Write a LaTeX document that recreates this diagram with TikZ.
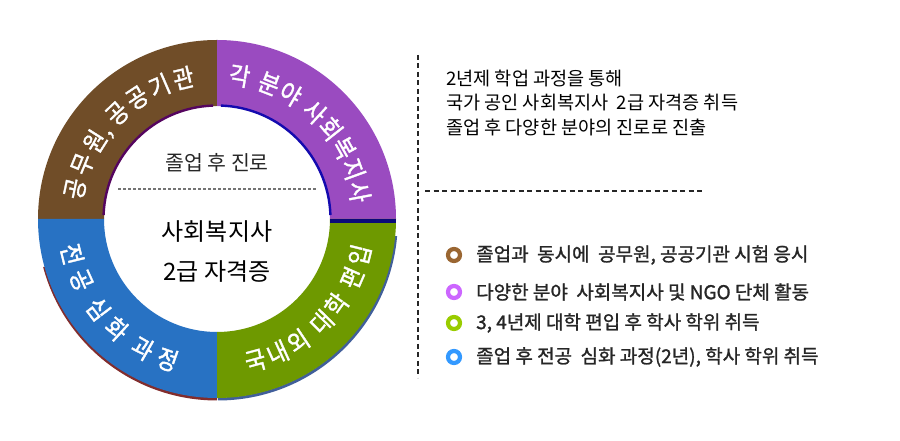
\documentclass[tikz,border=0pt]{standalone}
\usepackage{fontspec}
\setmainfont{Noto Sans CJK KR}
\newfontfamily\kr{Noto Sans CJK KR}
\newfontfamily\krmed[FakeBold=1.2]{Noto Sans CJK KR}
\newfontfamily\krring[FakeBold=1.5,FakeStretch=0.9]{Noto Sans CJK KR}
\usetikzlibrary{calc}
\definecolor{cBrown}{RGB}{112,77,40}
\definecolor{cPurple}{RGB}{154,75,192}
\definecolor{cGreen}{RGB}{110,153,0}
\definecolor{cBlue}{RGB}{40,114,195}
\definecolor{lBrown}{RGB}{154,102,50}
\definecolor{lPurple}{RGB}{204,102,255}
\definecolor{lGreen}{RGB}{153,204,0}
\definecolor{lBlue}{RGB}{51,153,255}
\tikzset{
  legdot/.style={draw=#1, line width=4.2pt, circle, minimum size=12pt, inner sep=0pt},
  legtext/.style={anchor=west, font=\krmed\fontsize{19pt}{21pt}\selectfont, text=black!85, inner sep=0pt},
  infotext/.style={anchor=base west, font=\kr\fontsize{18.6pt}{20pt}\selectfont, inner sep=0pt},
  sep/.style={line width=1.2pt, dash pattern=on 5pt off 3.5pt, black!85},
  ringchar/.style={text=white, inner sep=0pt, font=\krring\fontsize{25pt}{25pt}\selectfont}
}
\begin{document}
\begin{tikzpicture}[x=1pt,y=1pt]
\useasboundingbox (0,0) rectangle (900,441);
\fill[white] (0,0) rectangle (900,441);
\coordinate (C) at (217,222);
% shadows on outer edge
\draw[line width=3pt, color={rgb,255:red,130;green,45;blue,45}] ($(C)+(0,-1.5)+(195:178.5pt)$) arc[start angle=195, end angle=270, radius=178.5pt];
\draw[line width=3pt, color={rgb,255:red,65;green,95;blue,155}] ($(C)+(0.8,-1.5)+(270:178.5pt)$) arc[start angle=270, end angle=355, radius=178.5pt];
% segments
\fill[cBrown] ($(C)+(90:179pt)$) arc[start angle=90, end angle=180, radius=179pt] -- ($(C)+(180:113pt)$) arc[start angle=180, end angle=90, radius=113pt] -- cycle;
\fill[cPurple] ($(C)+(0:179pt)$) arc[start angle=0, end angle=90, radius=179pt] -- ($(C)+(90:113pt)$) arc[start angle=90, end angle=0, radius=113pt] -- cycle;
\fill[cBlue] ($(C)+(180:179pt)$) arc[start angle=180, end angle=270, radius=179pt] -- ($(C)+(270:113pt)$) arc[start angle=270, end angle=180, radius=113pt] -- cycle;
\fill[cGreen] ($(C)+(270:179pt)$) arc[start angle=270, end angle=360, radius=179pt] -- ($(C)+(0:113pt)$) arc[start angle=360, end angle=270, radius=113pt] -- cycle;
% bevel lines
\draw[line width=2.4pt, color={rgb,255:red,85;green,5;blue,95}] ($(C)+(92:113.5pt)$) arc[start angle=92, end angle=178, radius=113.5pt];
\draw[line width=2.4pt, color={rgb,255:red,20;green,10;blue,175}] ($(C)+(2:113.5pt)$) arc[start angle=2, end angle=88, radius=113.5pt];
\fill[color={rgb,255:red,10;green,10;blue,120}] ($(C)+(113,-4.5)$) rectangle ($(C)+(179,0)$);
% ring texts: one node per character, placed on an arc round C
\foreach \ch/\a [count=\i] in {공/168, 무/157.8, 원/147.6, 공/133.4, 공/123.4, 기/113.4, 관/103.4}
  \node[ringchar, rotate=\a-90] (b\i) at ($(C)+(\a:145pt)$) {\ch};
\node[ringchar, rotate=51.5] (bc) at ($(C)+(141.5:135pt)$) {,};
\foreach \ch/\a [count=\i] in {각/81, 분/68.9, 야/59.6, 사/47.6, 회/38.4, 복/29.2, 지/20.0, 사/10.8}
  \node[ringchar, rotate=\a-90] (p\i) at ($(C)+(\a:145pt)$) {\ch};
\foreach \ch/\a [count=\i] in {국/-74.8, 내/-65.6, 외/-56.4, 대/-44.6, 학/-35.6, 편/-23.6, 입/-14.2}
  \node[ringchar, rotate=\a+90] (g\i) at ($(C)+(\a:147pt)$) {\ch};
\foreach \ch/\a [count=\i] in {전/193.7, 공/204.3, 심/217.2, 화/227.6, 과/240.1, 정/250.6}
  \node[ringchar, rotate=\a+90] (u\i) at ($(C)+(\a:149pt)$) {\ch};
% centre
\node[font=\kr\fontsize{20.5pt}{22pt}\selectfont, text=black!85] (t0) at (217,278) {졸업 후 진로};
\coordinate (dl) at (118,252);
\coordinate (dr) at (317,252);
\draw[line width=2.6pt, black!55, dash pattern=on 2.6pt off 2.4pt] (dl) -- (dr);
\node[font=\kr\fontsize{24pt}{26pt}\selectfont] (t1) at (217,209) {사회복지사};
\node[font=\kr\fontsize{24pt}{26pt}\selectfont] (t2) at (217,169) {2급 자격증};
% separators
\coordinate (v1) at (418,386);
\coordinate (v2) at (418,63);
\coordinate (h1) at (425,250);
\coordinate (h2) at (702,250);
\draw[sep] (v1) -- (v2);
\draw[sep] (h1) -- (h2);
% info text
\node[infotext] (i1) at (446,355.5) {2년제 학업 과정을 통해};
\node[infotext] (i2) at (446,331.5) {국가 공인 사회복지사\ \ 2급 자격증 취득};
\node[infotext] (i3) at (446,306.5) {졸업 후 다양한 분야의 진로로 진출};
% legend
\node[legdot=lBrown] (d1) at (454,186) {};
\node[legdot=lPurple] (d2) at (454,149) {};
\node[legdot=lGreen] (d3) at (454,118) {};
\node[legdot=lBlue] (d4) at (454,84) {};
\node[legtext] (l1) at (476,186) {졸업과\ \ 동시에\ \ 공무원, 공공기관 시험 응시};
\node[legtext] (l2) at (476,149) {다양한 분야\ \ 사회복지사 및 NGO 단체 활동};
\node[legtext] (l3) at (476,118) {3, 4년제 대학 편입 후 학사 학위 취득};
\node[legtext] (l4) at (476,84) {졸업 후 전공\ \ 심화 과정(2년), 학사 학위 취득};
\end{tikzpicture}
\end{document}
